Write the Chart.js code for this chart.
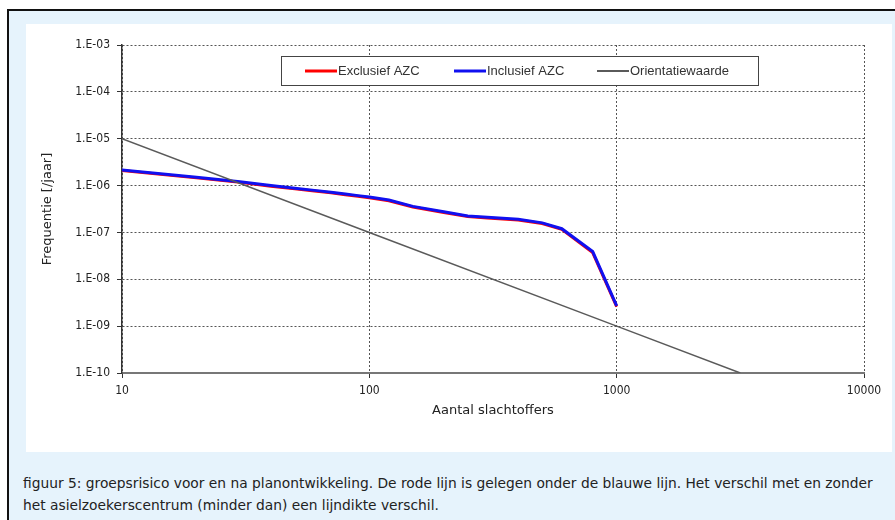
<!DOCTYPE html>
<html>
<head>
<meta charset="utf-8">
<script src="https://cdn.jsdelivr.net/npm/chart.js@4.4.0/dist/chart.umd.min.js"></script>
<style>
body{margin:0;width:895px;height:520px;overflow:hidden;background:#fff;position:relative}
#frame{position:absolute;left:7px;top:9px;width:900px;height:520px;border-left:2px solid #111;border-top:2px solid #111;background:#e6f3fc}
#panel{position:absolute;left:26px;top:24px;width:866px;height:428px;background:#fff}
#caption{position:absolute;left:23px;top:472px;width:872px;font-family:'DejaVu Sans',sans-serif;font-size:13.8px;line-height:22px;color:#222;white-space:nowrap}
</style>
</head>
<body>
<div id="frame"></div>
<div id="panel"><canvas id="chart1" width="866" height="428"></canvas></div>
<div id="caption">figuur 5: groepsrisico voor en na planontwikkeling. De rode lijn is gelegen onder de blauwe lijn. Het verschil met en zonder<br>het asielzoekerscentrum (minder dan) een lijndikte verschil.</div>
<script>
// aantal slachtoffers (N) en frequentie per jaar
const slachtoffers = [10,20,30,40,50,60,70,80,90,100,120,150,200,250,300,400,500,600,800,1000]
const inclusiefAZC = [2.16e-6,1.5e-6,1.2e-6,1.0e-6,8.8e-7,7.9e-7,7.2e-7,6.6e-7,6.1e-7,5.7e-7,4.9e-7,3.6e-7,2.75e-7,2.25e-7,2.1e-7,1.9e-7,1.6e-7,1.2e-7,3.9e-8,2.7e-9]
const exclusiefAZC = [2.1e-6,1.46e-6,1.17e-6,9.7e-7,8.5e-7,7.7e-7,7.0e-7,6.4e-7,5.9e-7,5.5e-7,4.75e-7,3.5e-7,2.67e-7,2.18e-7,2.04e-7,1.84e-7,1.55e-7,1.16e-7,3.7e-8,2.6e-9]
const orientN = [10,100,1000,3162]
const orientF = [1e-5,1e-7,1e-9,1e-10]

const xTicks = [10,100,1000,10000]
const xTickLabels = ["10","100","1000","10000"]
const yTicks = [1e-10,1e-9,1e-8,1e-7,1e-6,1e-5,1e-4,1e-3]
const yTickLabels = ["1.E-10","1.E-09","1.E-08","1.E-07","1.E-06","1.E-05","1.E-04","1.E-03"]

function pts(xs, ys){ return xs.map((x,i)=>({x:x, y:ys[i]})) }

const tickFont = {family:"'DejaVu Sans Condensed','DejaVu Sans',sans-serif", size:12}
const titleFont = {family:"'DejaVu Sans',sans-serif", size:13}

// legenda in een kader binnen het plotgebied
const boxLegend = {
  id:'boxLegend',
  afterDraw(chart){
    const ctx = chart.ctx
    const bx = 255, by = 32, bw = 477, bh = 29
    ctx.save()
    ctx.fillStyle = '#fff'
    ctx.fillRect(bx,by,bw,bh)
    ctx.strokeStyle = '#444'
    ctx.lineWidth = 1
    ctx.strokeRect(bx+0.5,by+0.5,bw,bh)
    const starts = [279,428,571]
    const cy = by + bh/2 + 0.5
    ctx.font = "13px 'Liberation Sans', Arial, sans-serif"
    ctx.textBaseline = 'middle'
    chart.data.datasets.forEach((ds,i)=>{
      ctx.strokeStyle = ds.borderColor
      ctx.lineWidth = i==2 ? 2 : 3
      ctx.beginPath()
      ctx.moveTo(starts[i],cy)
      ctx.lineTo(starts[i]+32,cy)
      ctx.stroke()
      ctx.fillStyle = '#333'
      ctx.fillText(ds.label, starts[i]+33, cy)
    })
    ctx.restore()
  }
}

new Chart(document.getElementById("chart1"), {
  type:'line',
  data:{
    datasets:[
      {label:"Exclusief AZC", data:pts(slachtoffers,exclusiefAZC), borderColor:"#ff0000", borderWidth:3, pointRadius:0, fill:false, order:3},
      {label:"Inclusief AZC", data:pts(slachtoffers,inclusiefAZC), borderColor:"#1010f0", borderWidth:3, pointRadius:0, fill:false, order:2},
      {label:"Orientatiewaarde", data:pts(orientN,orientF), borderColor:"#5a5a5a", borderWidth:1.5, pointRadius:0, fill:false, order:1}
    ]
  },
  plugins:[boxLegend],
  options:{
    animation:false,
    responsive:false,
    layout:{padding:{left:0,right:28,top:21,bottom:0}},
    plugins:{legend:{display:false}, tooltip:{enabled:false}},
    scales:{
      x:{
        type:'logarithmic', min:10, max:10000,
        afterBuildTicks: s => { s.ticks = xTicks.map(v=>({value:v})) },
        afterFit: s => { s.height = 79 },
        ticks:{callback:(v,i)=>xTickLabels[i], autoSkip:false, maxRotation:0, font:tickFont, color:'#222', padding:6},
        grid:{color:'#555', lineWidth:1, tickLength:5, tickColor:'#333'},
        border:{display:true, color:'#777', width:2, dash:[2,2]},
        title:{display:true, text:"Aantal slachtoffers", font:titleFont, color:'#222', padding:{top:34,bottom:34}}
      },
      y:{
        type:'logarithmic', min:1e-10, max:1e-3,
        afterBuildTicks: s => { s.ticks = yTicks.map(v=>({value:v})) },
        afterFit: s => { s.width = 96 },
        ticks:{callback:(v,i)=>yTickLabels[i], autoSkip:false, font:tickFont, color:'#222', padding:7},
        grid:{color:'#555', lineWidth:1, tickLength:5, tickColor:'#333'},
        border:{display:true, color:'#333', width:1.5, dash:[2,2]},
        title:{display:true, text:"Frequentie [/jaar]", font:titleFont, color:'#222', padding:{top:14,bottom:14}}
      }
    }
  }
})
</script>
</body>
</html>
